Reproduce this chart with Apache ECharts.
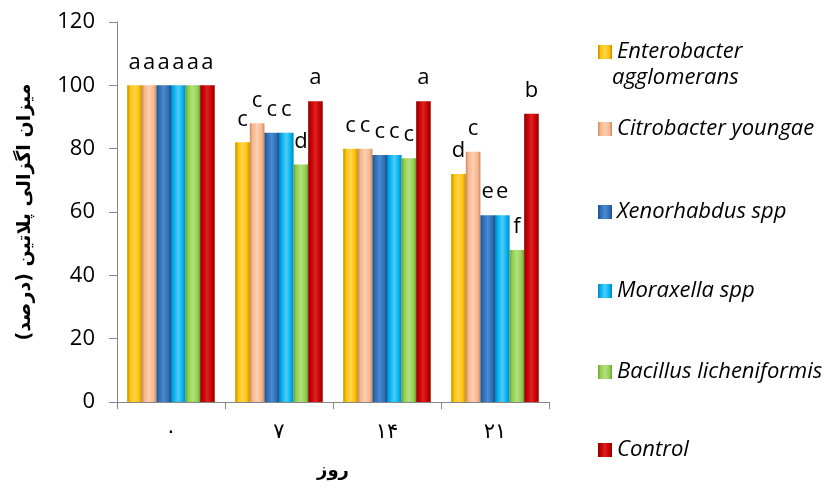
<!DOCTYPE html>
<html><head><meta charset="utf-8">
<script src="https://cdn.jsdelivr.net/npm/echarts@6/dist/echarts.min.js"></script>
<style>html,body{margin:0;padding:0;background:#fff}#c{width:840px;height:490px}</style>
</head><body><div id="c"></div>
<script>
const categories = ['۰', '۷', '۱۴', '۲۱'];
const seriesNames = ['Enterobacter agglomerans', 'Citrobacter youngae', 'Xenorhabdus spp', 'Moraxella spp', 'Bacillus licheniformis', 'Control'];
const enterobacter = [100, 82, 80, 72];
const citrobacter = [100, 88, 80, 79];
const xenorhabdus = [100, 85, 78, 59];
const moraxella = [100, 85, 78, 59];
const bacillus = [100, 75, 77, 48];
const control = [100, 95, 95, 91];
const letters = [
  ['a', 'c', 'c', 'd'],
  ['a', 'c', 'c', 'c'],
  ['a', 'c', 'c', 'e'],
  ['a', 'c', 'c', 'e'],
  ['a', 'd', 'c', 'f'],
  ['a', 'a', 'a', 'b']
];
const yTitle = 'میزان اگزالی پلاتین (درصد)';
const xTitle = 'روز';

const values = [enterobacter, citrobacter, xenorhabdus, moraxella, bacillus, control];
const palette = [
  ['#B98B00', '#FFC000', '#FFD54F'],
  ['#C98A60', '#F7B58C', '#FBD0B2'],
  ['#1F4E82', '#2E6DB4', '#4A8BD0'],
  ['#0085B8', '#00B0F0', '#4DCCF8'],
  ['#6A9E32', '#92D050', '#B3E07F'],
  ['#8A0000', '#C00000', '#E02020']
];
function grad(p) {
  return new echarts.graphic.LinearGradient(0, 0, 1, 0, [
    {offset: 0, color: p[0]}, {offset: 0.18, color: p[1]},
    {offset: 0.5, color: p[2]}, {offset: 0.82, color: p[1]}, {offset: 1, color: p[0]}
  ]);
}
const series = values.map((v, i) => ({
  name: seriesNames[i],
  type: 'bar',
  data: v,
  barGap: '0%',
  barCategoryGap: '19%',
  itemStyle: {color: grad(palette[i])},
  label: {
    show: true, position: 'top', distance: 12,
    color: '#000', fontSize: 22, fontFamily: 'Open Sans',
    formatter: p => letters[i][p.dataIndex]
  }
}));
const legendCenters = [48, 125, 208, 287, 368, 446];
const legendFont = {fontSize: 22, fontStyle: 'italic', fontFamily: 'Open Sans', color: '#000'};
const legends = seriesNames.map((n, i) => ({
  data: [n],
  left: 593, top: legendCenters[i] - 12,
  itemWidth: 14, itemHeight: 14,
  icon: 'rect',
  formatter: i === 0 ? 'Enterobacter' : n,
  textStyle: legendFont
}));
const chart = echarts.init(document.getElementById('c'), null, {renderer: 'canvas'});
chart.setOption({
  animation: false,
  grid: {left: 117, top: 22, right: 291, bottom: 88, containLabel: false},
  legend: legends,
  graphic: [{
    type: 'text', left: 612, top: 67,
    style: {text: 'agglomerans', font: 'italic 22px "Open Sans"', fill: '#000'}
  }],
  xAxis: {
    type: 'category', data: categories,
    axisLine: {lineStyle: {color: '#868686'}},
    axisTick: {show: true, length: 7, lineStyle: {color: '#868686'}},
    axisLabel: {color: '#000', fontSize: 21, margin: 20, fontFamily: 'DejaVu Sans'},
    name: xTitle, nameLocation: 'middle', nameGap: 60,
    nameTextStyle: {color: '#000', fontSize: 18, fontWeight: 'bold', fontFamily: 'DejaVu Sans'}
  },
  yAxis: {
    type: 'value', min: 0, max: 120, interval: 20,
    axisLine: {show: true, lineStyle: {color: '#868686'}},
    axisTick: {show: true, length: 8, lineStyle: {color: '#868686'}},
    splitLine: {show: false},
    axisLabel: {color: '#000', fontSize: 22, margin: 22, fontFamily: 'Open Sans'},
    name: yTitle, nameLocation: 'middle', nameGap: 82, nameRotate: 90,
    nameTextStyle: {color: '#000', fontSize: 19, fontWeight: 'bold', fontFamily: 'DejaVu Sans'}
  },
  series: series
});
</script></body></html>
